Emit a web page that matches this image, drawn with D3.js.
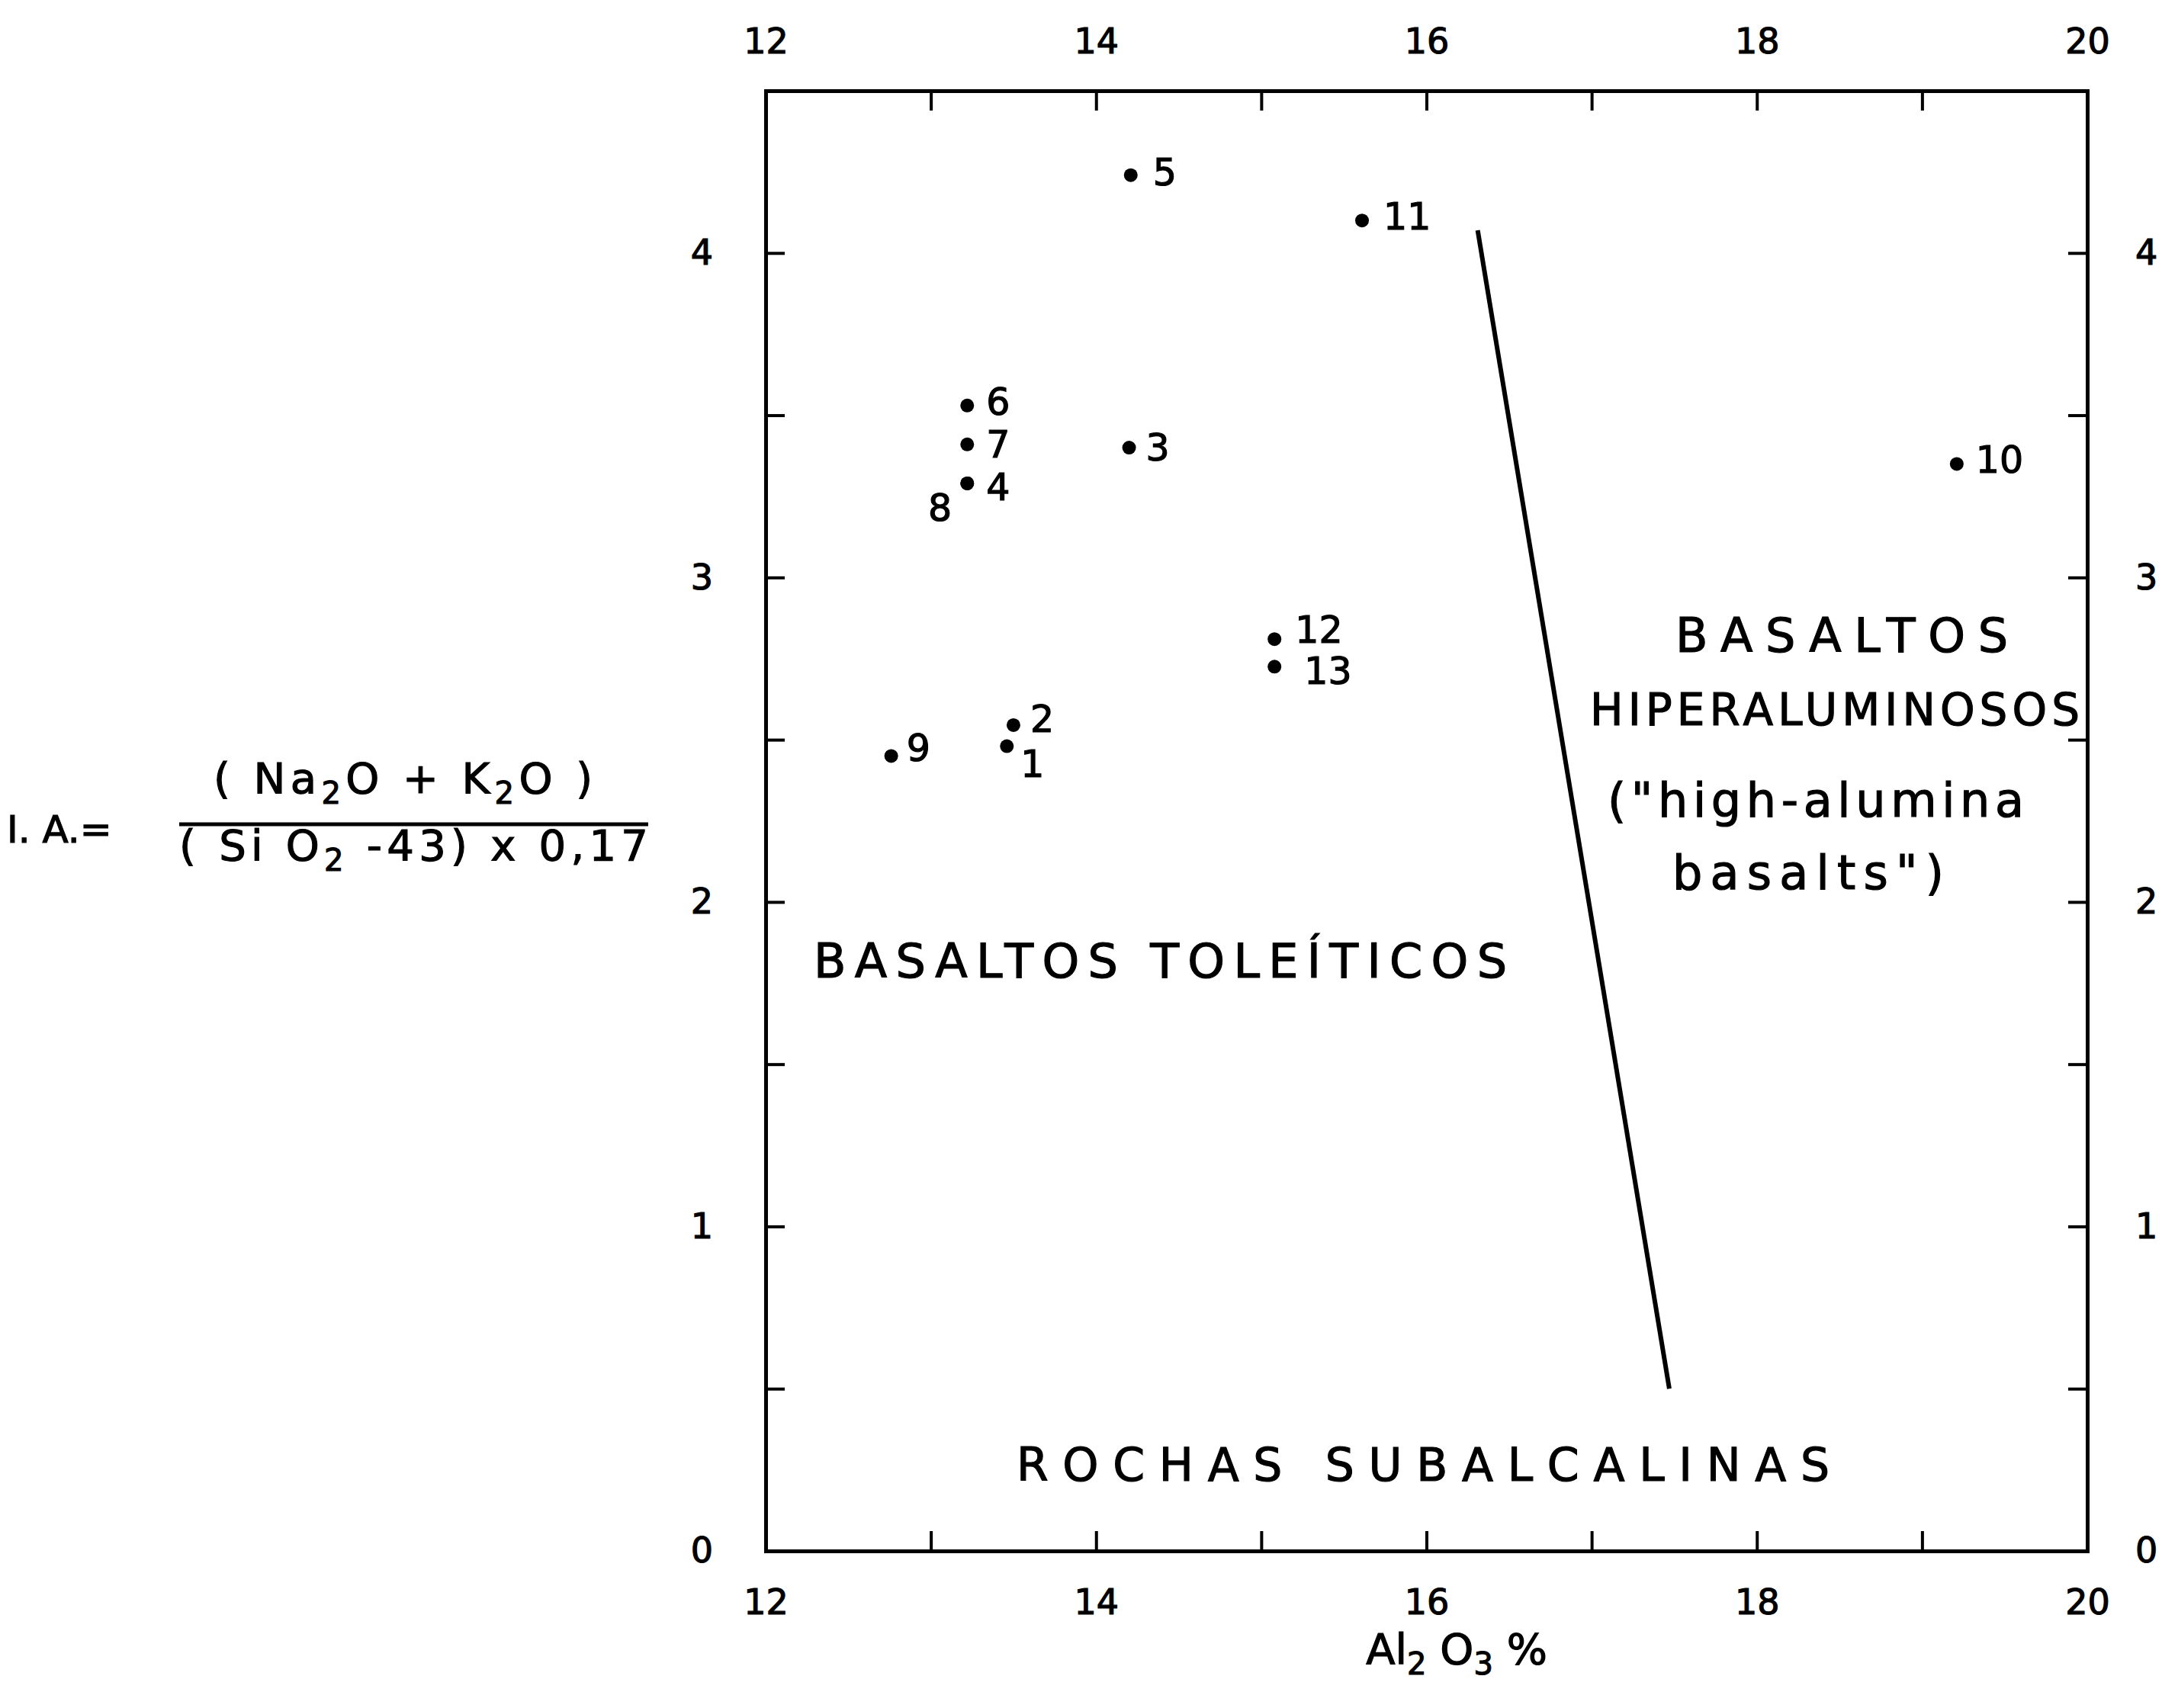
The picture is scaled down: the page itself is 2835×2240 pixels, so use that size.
<!DOCTYPE html>
<html>
<head>
<meta charset="utf-8">
<script src="https://cdn.jsdelivr.net/npm/d3@7"></script>
<style>
  body { margin: 0; background: #fff; }
  text { font-family: "DejaVu Sans", sans-serif; fill: #000; stroke: #000; stroke-width: 1.2px; }
</style>
</head>
<body>
<script>
// sample numbers and their coordinates (Al2O3 %, alkali index I.A.)
var samples = ["1", "2", "3", "4", "5", "6", "7", "8", "9", "10", "11", "12", "13"];
var al2o3   = [13.46, 13.50, 14.20, 13.22, 14.21, 13.22, 13.22, 13.22, 12.76, 19.21, 15.61, 15.08, 15.08];
var iaIndex = [2.48, 2.545, 3.40, 3.29, 4.24, 3.53, 3.41, 3.29, 2.45, 3.35, 4.10, 2.81, 2.725];

// boundary between tholeiitic and high-alumina basalts
var boundaryAl = [16.31, 17.47];
var boundaryIa = [4.07, 0.50];

var xTicks = d3.range(12, 20.01, 1);
var yTicks = d3.range(0, 4.51, 0.5);

var W = 2835, H = 2240;
var x = d3.scaleLinear().domain([12, 20]).range([1004, 2737]);
var y = d3.scaleLinear().domain([0, 4.5]).range([2034, 119]);

// where each number sits relative to its dot
var labelOffset = {
  "1": [18, 40], "2": [22, 9], "3": [22, 17], "4": [25, 22], "5": [29, 13],
  "6": [25, 12], "7": [25, 17], "8": [-20, 49], "9": [20, 7], "10": [25, 12],
  "11": [28, 12], "12": [27, 5], "13": [39, 23]
};

var svg = d3.select("body").append("svg")
  .attr("width", W).attr("height", H);

function styleAxis(g) {
  g.select(".domain").attr("stroke", "#000").attr("stroke-width", 5).attr("stroke-linecap", "square");
  g.selectAll(".tick line").attr("stroke", "#000").attr("stroke-width", 4);
  g.selectAll(".tick text").attr("font-size", 46).attr("font-family", "DejaVu Sans").attr("fill", "#000");
}
var xFmt = function (d) { return d % 2 === 0 ? d : ""; };
var yFmt = function (d) { return d % 1 === 0 ? d : ""; };

svg.append("g").attr("transform", "translate(0," + y(0) + ")")
  .call(d3.axisBottom(x).tickValues(xTicks).tickSizeInner(-26).tickSizeOuter(0).tickPadding(50).tickFormat(xFmt))
  .call(styleAxis);
svg.append("g").attr("transform", "translate(0," + y(4.5) + ")")
  .call(d3.axisTop(x).tickValues(xTicks).tickSizeInner(-26).tickSizeOuter(0).tickPadding(49).tickFormat(xFmt))
  .call(styleAxis);
svg.append("g").attr("transform", "translate(" + x(12) + ",0)")
  .call(d3.axisLeft(y).tickValues(yTicks).tickSizeInner(-25).tickSizeOuter(0).tickPadding(69).tickFormat(yFmt))
  .call(styleAxis);
svg.append("g").attr("transform", "translate(" + x(20) + ",0)")
  .call(d3.axisRight(y).tickValues(yTicks).tickSizeInner(-25).tickSizeOuter(0).tickPadding(63).tickFormat(yFmt))
  .call(styleAxis);

// boundary line
var pts = boundaryAl.map(function (a, i) { return [a, boundaryIa[i]]; });
svg.append("path")
  .attr("d", d3.line().x(function (d) { return x(d[0]); }).y(function (d) { return y(d[1]); })(pts))
  .attr("fill", "none").attr("stroke", "#000").attr("stroke-width", 6);

// points
var data = samples.map(function (s, i) { return { id: s, al: al2o3[i], ia: iaIndex[i] }; });
svg.append("g").selectAll("circle").data(data).enter().append("circle")
  .attr("cx", function (d) { return x(d.al); })
  .attr("cy", function (d) { return y(d.ia); })
  .attr("r", 9).attr("fill", "#000");
svg.append("g").selectAll("text").data(data).enter().append("text")
  .attr("x", function (d) { return x(d.al) + labelOffset[d.id][0]; })
  .attr("y", function (d) { return y(d.ia) + labelOffset[d.id][1]; })
  .attr("text-anchor", function (d) { return labelOffset[d.id][0] < 0 ? "end" : "start"; })
  .attr("font-size", 49)
  .text(function (d) { return d.id; });

// field names
function note(txt, x0, x1, base, size) {
  svg.append("text").attr("x", x0).attr("y", base).attr("font-size", size)
    .attr("textLength", x1 - x0).attr("lengthAdjust", "spacing").text(txt);
}
note("BASALTOS TOLEÍTICOS", 1067, 1976, 1282, 62);
note("ROCHAS SUBALCALINAS", 1333, 2399, 1942, 60);
note("BASALTOS", 2197, 2633, 855, 62);
note("HIPERALUMINOSOS", 2085, 2727, 951, 58);
note("(\"high-alumina", 2108, 2654, 1071, 62);
note("basalts\")", 2193, 2549, 1166, 62);

// x axis title
var xt = svg.append("text").attr("x", 1910).attr("y", 2182).attr("text-anchor", "middle").attr("font-size", 56);
xt.append("tspan").text("Al");
xt.append("tspan").attr("dy", 14).attr("font-size", 40).text("2");
xt.append("tspan").attr("dy", -14).text(" O");
xt.append("tspan").attr("dy", 14).attr("font-size", 40).text("3");
xt.append("tspan").attr("dy", -14).text(" %");

// y axis title: the alkali index formula
svg.append("text").attr("x", 9).attr("y", 1105).attr("font-size", 50)
  .attr("font-family", "Liberation Serif").text("I. A.=");
var num = svg.append("text").attr("x", 280).attr("y", 1040).attr("font-size", 56)
  .attr("textLength", 497).attr("lengthAdjust", "spacing");
num.append("tspan").text("( Na");
num.append("tspan").attr("dy", 14).attr("font-size", 40).text("2");
num.append("tspan").attr("dy", -14).text("O + K");
num.append("tspan").attr("dy", 14).attr("font-size", 40).text("2");
num.append("tspan").attr("dy", -14).text("O )");
svg.append("line").attr("x1", 235).attr("x2", 850).attr("y1", 1081).attr("y2", 1081)
  .attr("stroke", "#000").attr("stroke-width", 5);
var den = svg.append("text").attr("x", 235).attr("y", 1128).attr("font-size", 56)
  .attr("textLength", 615).attr("lengthAdjust", "spacing");
den.append("tspan").text("( Si O");
den.append("tspan").attr("dy", 14).attr("font-size", 40).text("2");
den.append("tspan").attr("dy", -14).text(" -43) x 0,17");
</script>
</body>
</html>
